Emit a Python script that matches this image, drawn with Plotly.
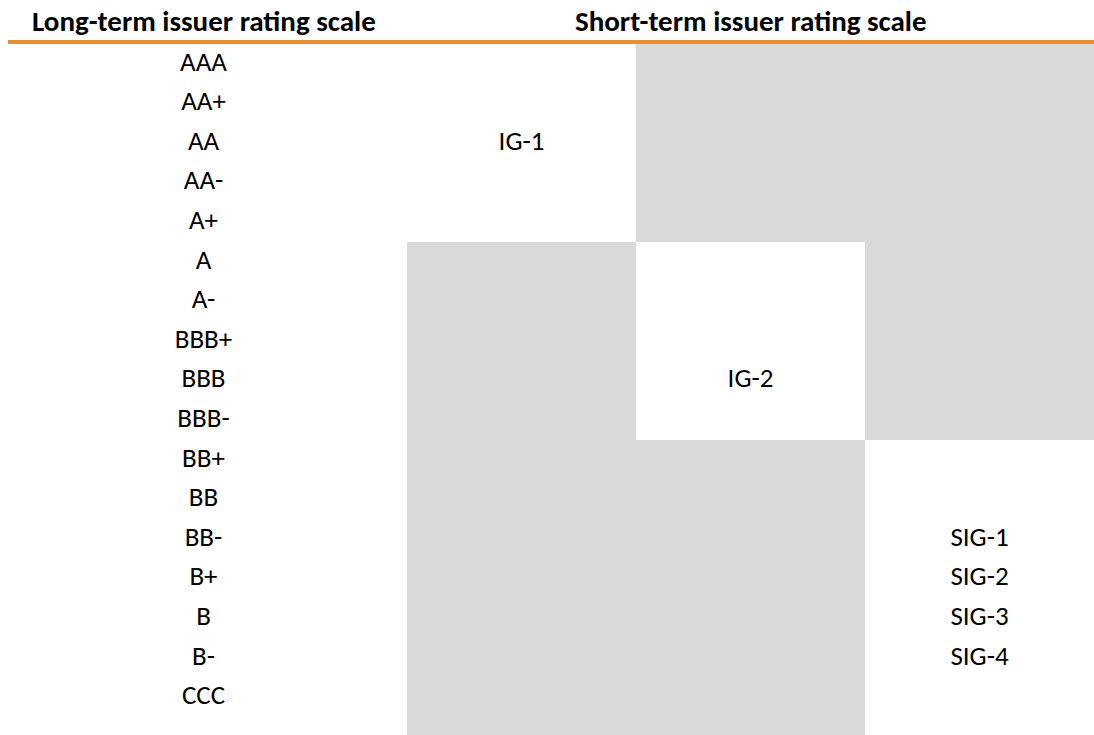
import plotly.graph_objects as go

# ---------------- data ----------------
long_term = ["AAA", "AA+", "AA", "AA-", "A+", "A", "A-", "BBB+", "BBB", "BBB-",
             "BB+", "BB", "BB-", "B+", "B", "B-", "CCC"]
short_term_cols = ["IG-1", "IG-2", "SIG"]
# short-term scale column each long-term rating maps to
equivalent = ["IG-1", "IG-1", "IG-1", "IG-1", "IG-1",
              "IG-2", "IG-2", "IG-2", "IG-2", "IG-2",
              "SIG", "SIG", "SIG", "SIG", "SIG", "SIG", "SIG"]
short_labels = ["IG-1", "IG-2", "SIG-1", "SIG-2", "SIG-3", "SIG-4"]
short_label_col = ["IG-1", "IG-2", "SIG", "SIG", "SIG", "SIG"]
short_label_row = ["AA", "BBB", "BB-", "B+", "B", "B-"]
header_long = "Long-term issuer rating scale"
header_short = "Short-term issuer rating scale"

# ---------------- styling / layout ----------------
W, H = 1094, 735
TOP = 44
LEFT_W = 407
ROW_BOTTOM = 16.95
FONT = "Carlito, Calibri, Lato, sans-serif"
FS = 27
HFS = 29
GRAY = "#D9D9D9"
ORANGE = "#E88F34"

n = len(long_term)
z = [[0 if equivalent[i] == c else 1 for c in short_term_cols] for i in range(n)]
y_edges = [i - 0.5 for i in range(n)] + [ROW_BOTTOM]

fig = go.Figure()
fig.add_trace(go.Heatmap(
    x=short_term_cols, y=y_edges, z=z,
    colorscale=[[0, "#FFFFFF"], [1, GRAY]], zmin=0, zmax=1,
    showscale=False, hoverinfo="skip", xaxis="x", yaxis="y"))

fig.add_trace(go.Scatter(
    x=short_label_col, y=[long_term.index(r) for r in short_label_row],
    text=short_labels, mode="text", textposition="middle center",
    textfont=dict(family=FONT, size=FS, color="#000000"),
    hoverinfo="skip", showlegend=False, xaxis="x", yaxis="y"))

fig.add_trace(go.Scatter(
    x=[header_long] * n, y=list(range(n)), text=long_term,
    mode="text", textposition="middle center",
    textfont=dict(family=FONT, size=FS, color="#000000"),
    hoverinfo="skip", showlegend=False, xaxis="x2", yaxis="y"))

fig.update_layout(
    width=W, height=H,
    margin=dict(l=0, r=0, t=TOP, b=0, pad=0),
    paper_bgcolor="white", plot_bgcolor="white",
    showlegend=False,
    xaxis=dict(domain=[LEFT_W / W, 1], type="category", range=[-0.5, 2.5],
               visible=False, fixedrange=True),
    xaxis2=dict(domain=[0, LEFT_W / W], type="category", range=[-0.5, 0.5],
                visible=False, fixedrange=True, anchor="y"),
    yaxis=dict(range=[ROW_BOTTOM, -0.5], visible=False, fixedrange=True),
    annotations=[
        dict(text="<b>%s</b>" % header_long, xref="x2 domain", x=0.5,
             yref="paper", y=1, yshift=23, yanchor="middle", xanchor="center",
             showarrow=False, font=dict(family=FONT, size=HFS, color="#000000")),
        dict(text="<b>%s</b>" % header_short, xref="x domain", x=0.5,
             yref="paper", y=1, yshift=23, yanchor="middle", xanchor="center",
             showarrow=False, font=dict(family=FONT, size=HFS, color="#000000")),
    ],
    shapes=[dict(type="line", xref="paper", yref="paper",
                 x0=8 / W, x1=1, y0=1 + 2 / (H - TOP), y1=1 + 2 / (H - TOP),
                 line=dict(color=ORANGE, width=4))],
)

fig.write_html(
    "out.html",
    config={"displayModeBar": False},
    post_script="document.body.style.margin='0';document.body.style.overflow='hidden';",
)
